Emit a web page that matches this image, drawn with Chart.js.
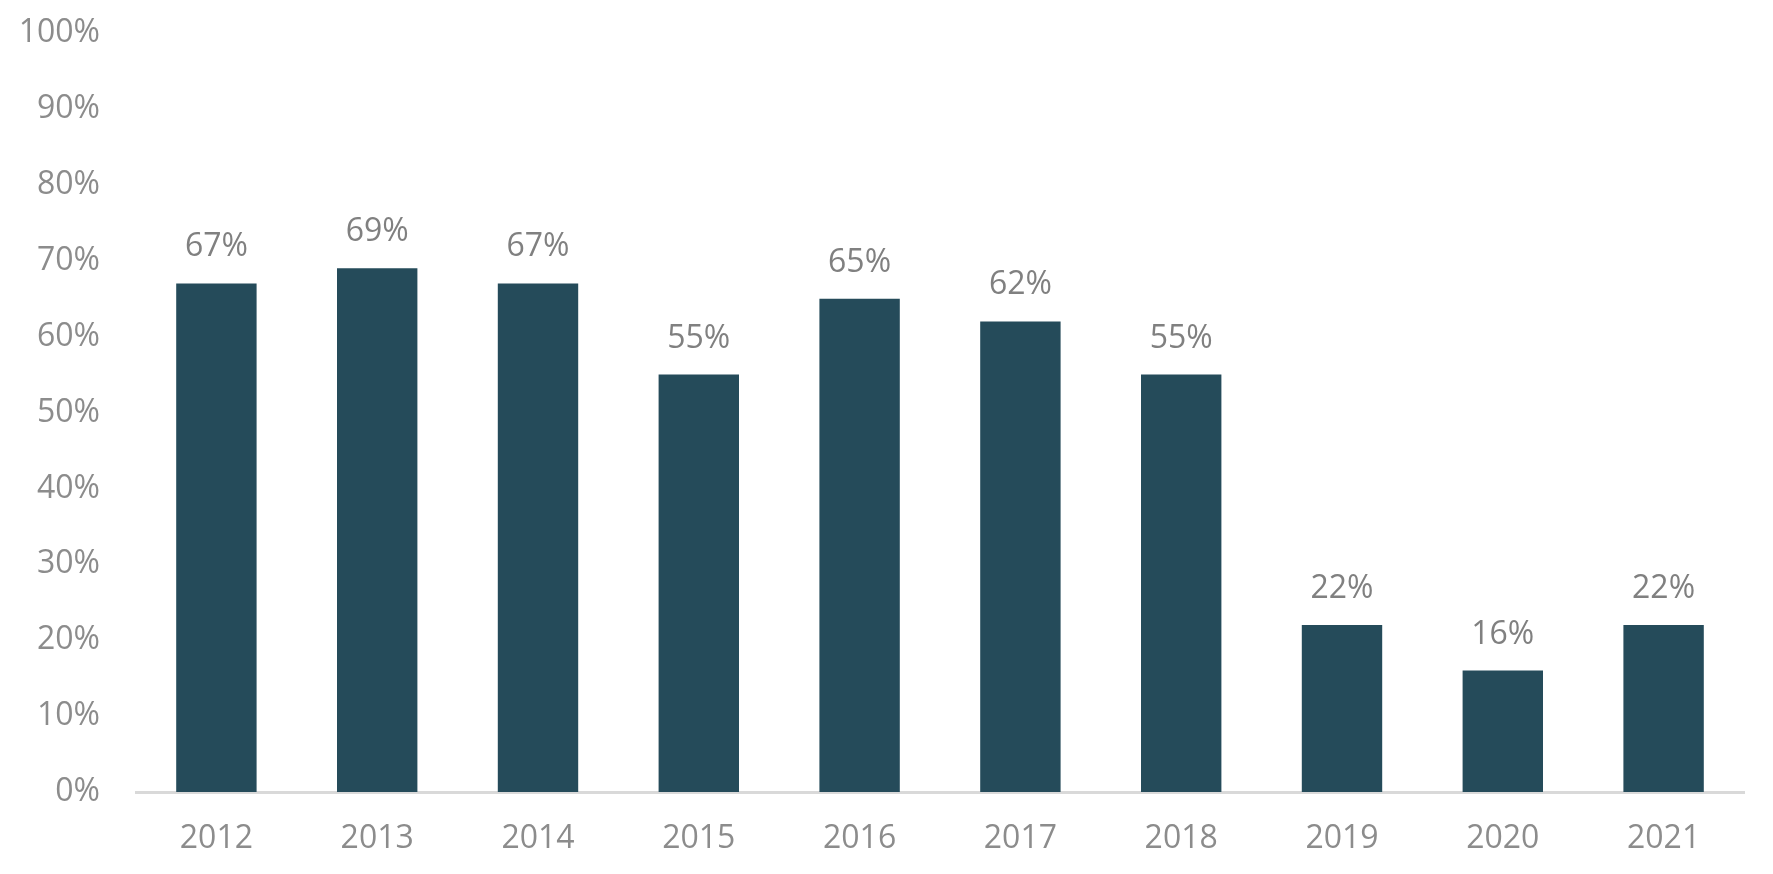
<!DOCTYPE html>
<html>
<head>
<meta charset="utf-8">
<script src="https://cdn.jsdelivr.net/npm/chart.js@4/dist/chart.umd.min.js"></script>
<style>
  html, body { margin: 0; padding: 0; background: #fff; }
  #wrap { width: 1773px; height: 874px; }
</style>
</head>
<body>
<div id="wrap"><canvas id="share-chart"></canvas></div>
<script>
const years = ["2012", "2013", "2014", "2015", "2016", "2017", "2018", "2019", "2020", "2021"];
const shares = [67, 69, 67, 55, 65, 62, 55, 22, 16, 22];
const yTicks = [0, 10, 20, 30, 40, 50, 60, 70, 80, 90, 100];

const FONT = "'Open Sans', 'Liberation Sans', sans-serif";

// draws the "67%" style labels above each bar
const barValueLabels = {
  id: "barValueLabels",
  afterDatasetsDraw(chart) {
    const ctx = chart.ctx;
    const meta = chart.getDatasetMeta(0);
    ctx.save();
    ctx.font = "32px " + FONT;
    ctx.fillStyle = "#808080";
    ctx.textAlign = "center";
    ctx.textBaseline = "alphabetic";
    meta.data.forEach((bar, i) => {
      ctx.fillText(shares[i] + "%", bar.x, bar.y - 27);
    });
    ctx.restore();
  },
};

const ctx = document.getElementById("share-chart");

new Chart(ctx, {
  type: "bar",
  data: {
    labels: years,
    datasets: [
      {
        label: "Share",
        data: shares,
        backgroundColor: "#254b5a",
        borderWidth: 0,
        categoryPercentage: 1,
        barPercentage: 0.5,
      },
    ],
  },
  options: {
    responsive: true,
    maintainAspectRatio: false,
    animation: false,
    layout: {
      padding: { left: 0, right: 29, top: 33, bottom: 0 },
    },
    plugins: {
      legend: { display: false },
      tooltip: { enabled: false },
    },
    scales: {
      x: {
        grid: { display: false, drawTicks: false },
        border: { display: true, color: "#d9d9d9", width: 3 },
        ticks: {
          color: "#8c8c8c",
          padding: 28,
          font: { size: 32, family: FONT },
        },
        afterFit: (scale) => {
          scale.height = 82;
        },
      },
      y: {
        min: 0,
        max: 100,
        afterBuildTicks: (scale) => {
          scale.ticks = yTicks.map((v) => ({ value: v }));
        },
        grid: { display: false, drawTicks: false },
        border: { display: false },
        ticks: {
          color: "#8c8c8c",
          padding: 36,
          font: { size: 32, family: FONT },
          callback: (v) => v + "%",
        },
        afterFit: (scale) => {
          scale.width = 136;
          // tick padding otherwise pushes the top of the plot down
          scale.paddingTop = 0;
          scale.paddingBottom = 0;
        },
      },
    },
  },
  plugins: [barValueLabels],
});
</script>
</body>
</html>
